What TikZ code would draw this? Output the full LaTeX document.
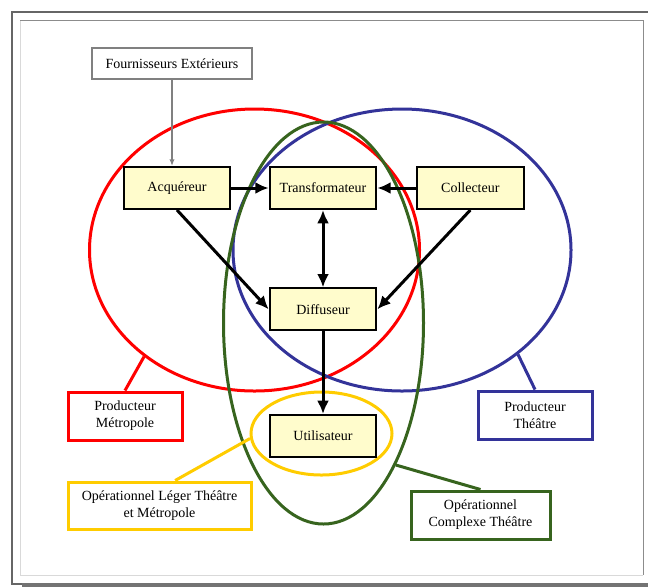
\documentclass[tikz,border=0pt]{standalone}
\usepackage{fontspec}
\setmainfont{Liberation Serif}
\usetikzlibrary{shapes.geometric, arrows.meta, positioning}

\definecolor{prodred}{RGB}{255,0,0}
\definecolor{prodblue}{RGB}{51,51,153}
\definecolor{opgreen}{RGB}{55,100,30}
\definecolor{opyellow}{RGB}{255,204,0}

\begin{document}
\begin{tikzpicture}[
    x=0.75pt, y=-0.75pt,
    font=\fontsize{10.5}{12.75}\selectfont,
    stage/.style={rectangle, draw=black, fill=yellow!20, line width=1.5pt, minimum width=80pt, minimum height=31.5pt, text centered},
    group/.style={ellipse, line width=2.25pt, inner sep=0pt},
    tag/.style={rectangle, line width=2.25pt, minimum height=36pt, align=center},
    link/.style={line width=2.25pt},
    arrow/.style={->, >={Latex[length=10pt, width=9pt]}, line width=2.25pt, draw=black}
]
\useasboundingbox (0,0) rectangle (648,587);

% frame
\fill[black!55] (22,583) rectangle (648,587);
\draw[black!60, line width=0.9pt] (648,12) -- (12,12) -- (12,584) -- (22,584);
\draw[black!15, line width=0.75pt] (20,20) -- (20,575) -- (643,575);
\draw[black!45, line width=0.75pt] (20,20) -- (643,20) -- (643,575);

% groups
\node[group, draw=prodred, minimum width=247.5pt, minimum height=211.5pt] (metro) at (254.5,250) {};
\node[group, draw=prodblue, minimum width=253.5pt, minimum height=211.5pt] (theatre) at (402,250) {};
\node[group, draw=opgreen, minimum width=150pt, minimum height=301.5pt] (complexe) at (323.5,323) {};
\node[group, draw=opyellow, minimum width=105.75pt, minimum height=62.25pt] (leger) at (321.5,433.5) {};

% stages
\node[stage] (transfo) at (323,188) {Transformateur};
\node[stage, left=28pt of transfo] (acquereur) {Acquéreur};
\node[stage, right=29pt of transfo] (collecteur) {Collecteur};
\node[stage, below=58pt of transfo] (diffuseur) {Diffuseur};
\node[stage, below=62pt of diffuseur] (utilisateur) {Utilisateur};
\node[rectangle, draw=black!50, line width=1.5pt, minimum width=120pt, minimum height=23pt] (fourn) at (172,63.5) {Fournisseurs Extérieurs};

% tags
\node[tag, draw=prodred, minimum width=85.5pt] (tagmetro) at (125,416) {Producteur\\Métropole};
\node[tag, draw=prodblue, minimum width=85.5pt] (tagtheatre) at (535,415) {Producteur\\Théâtre};
\node[tag, draw=opyellow, minimum width=137.25pt, minimum height=35.25pt] (tagleger) at (159.5,505.5) {Opérationnel Léger Théâtre\\et Métropole};
\node[tag, draw=opgreen, minimum width=104.25pt] (tagcomplexe) at (480.5,515) {Opérationnel\\Complexe Théâtre};

\draw[link, prodred] (tagmetro.north) -- (metro.224);
\draw[link, prodblue] (tagtheatre.north) -- (theatre.318);
\draw[link, opyellow] (tagleger.58) -- (leger.184);
\draw[link, opgreen] (tagcomplexe.north) -- (complexe.297);

\draw[->, >={Latex[length=5pt, width=4pt]}, draw=black!50, line width=1.2pt] (fourn.south) -- (fourn.south |- acquereur.north);
\draw[arrow] (acquereur) -- (transfo);
\draw[arrow] (collecteur) -- (transfo);
\draw[arrow, <->] (transfo) -- (diffuseur);
\draw[arrow] (acquereur.south) -- (diffuseur.west);
\draw[arrow] (collecteur.south) -- (diffuseur.east);
\draw[arrow] (diffuseur) -- (utilisateur);

\end{tikzpicture}
\end{document}
